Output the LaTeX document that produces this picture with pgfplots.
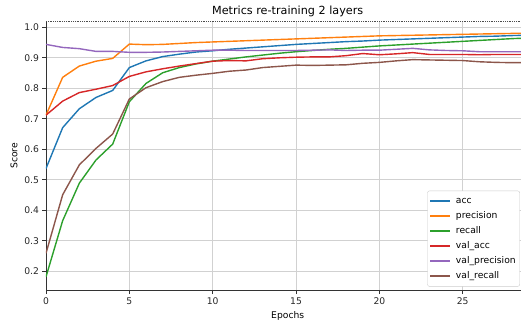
\documentclass[border=0pt]{standalone}
\usepackage{fontspec}
\setmainfont{DejaVu Sans}
\usepackage{pgfplots}
\pgfplotsset{compat=1.18}
\definecolor{c0}{HTML}{1F77B4}
\definecolor{c1}{HTML}{FF7F0E}
\definecolor{c2}{HTML}{2CA02C}
\definecolor{c3}{HTML}{D62728}
\definecolor{c4}{HTML}{9467BD}
\definecolor{c5}{HTML}{8C564B}
\pgfplotstableread{
e acc prec rec vacc vprec vrec
0 0.537 0.712 0.182 0.712 0.944 0.259
1 0.671 0.836 0.366 0.758 0.934 0.451
2 0.733 0.873 0.489 0.786 0.930 0.549
3 0.770 0.889 0.565 0.797 0.921 0.603
4 0.793 0.898 0.617 0.809 0.921 0.650
5 0.868 0.945 0.756 0.839 0.918 0.765
6 0.890 0.943 0.816 0.854 0.918 0.802
7 0.904 0.944 0.851 0.864 0.919 0.822
8 0.912 0.947 0.868 0.873 0.921 0.836
9 0.919 0.950 0.880 0.881 0.923 0.843
10 0.923 0.952 0.889 0.889 0.925 0.849
11 0.928 0.954 0.896 0.891 0.925 0.856
12 0.932 0.956 0.903 0.890 0.924 0.860
13 0.936 0.958 0.909 0.897 0.924 0.868
14 0.940 0.960 0.915 0.900 0.924 0.872
15 0.944 0.962 0.920 0.902 0.924 0.876
16 0.947 0.964 0.924 0.903 0.925 0.875
17 0.950 0.966 0.928 0.903 0.926 0.876
18 0.953 0.968 0.931 0.907 0.924 0.877
19 0.955 0.970 0.935 0.914 0.925 0.882
20 0.958 0.972 0.939 0.910 0.925 0.885
21 0.960 0.973 0.942 0.913 0.928 0.890
22 0.962 0.974 0.945 0.917 0.931 0.894
23 0.964 0.975 0.948 0.911 0.926 0.893
24 0.966 0.976 0.951 0.911 0.924 0.892
25 0.968 0.977 0.954 0.911 0.923 0.891
26 0.970 0.978 0.957 0.910 0.920 0.887
27 0.971 0.979 0.960 0.911 0.920 0.885
28 0.973 0.980 0.963 0.911 0.920 0.884
29 0.974 0.981 0.965 0.911 0.920 0.884
}\data
\begin{document}
\begin{tikzpicture}
\begin{axis}[
  at={(0pt,0pt)}, anchor=south west,
  scale only axis,
  width=483.4pt, height=269.7pt,
  xmin=0, xmax=29, ymin=0.1364, ymax=1.0207,
  axis lines*=left,
  axis line style={-, color=black!80, line width=0.8pt},
  xtick={0,5,10,15,20,25},
  ytick={0.2,0.3,0.4,0.5,0.6,0.7,0.8,0.9,1.0},
  yticklabel style={/pgf/number format/.cd, fixed, fixed zerofill, precision=1},
  /pgf/number format/assume math mode=true,
  tick align=outside,
  major tick length=3.5pt,
  tick style={color=black!80, line width=0.8pt},
  ticklabel style={font=\fontsize{9.2}{11}\selectfont, color=black!85},
  grid=major,
  major grid style={color=black!18, line width=0.8pt},
  title={Metrics re-training 2 layers},
  title style={font=\fontsize{11.2}{13}\selectfont, yshift=-5pt},
  xlabel={Epochs}, ylabel={Score},
  label style={font=\fontsize{9.2}{11}\selectfont},
  legend style={at={(axis description cs:0.7888,0.3708)}, anchor=north west,
    font=\fontsize{9.2}{11}\selectfont, draw=black!20, rounded corners=2pt,
    fill=white, inner ysep=3.75pt, inner xsep=2pt,
    nodes={inner sep=2pt, text height=7pt, text depth=2pt},
    row sep=2pt},
  legend cell align=left,
  legend image code/.code={\draw[#1, line width=1.5pt] (0pt,0pt) -- (20pt,0pt); \path (23pt,0pt);},
  every axis plot/.append style={line width=1.4pt},
]
\addplot[c0] table[x=e,y=acc]{\data};
\addplot[c1] table[x=e,y=prec]{\data};
\addplot[c2] table[x=e,y=rec]{\data};
\addplot[c3] table[x=e,y=vacc]{\data};
\addplot[c4] table[x=e,y=vprec]{\data};
\addplot[c5] table[x=e,y=vrec]{\data};
\legend{acc,precision,recall,val\_acc,val\_precision,val\_recall}
\draw[black!70, densely dotted, line width=0.8pt] (rel axis cs:0,1) -- (rel axis cs:1,1);
\end{axis}
\pgfresetboundingbox
\useasboundingbox (-46pt,-34.3pt) rectangle (475pt,290.7pt);
\end{tikzpicture}
\end{document}
